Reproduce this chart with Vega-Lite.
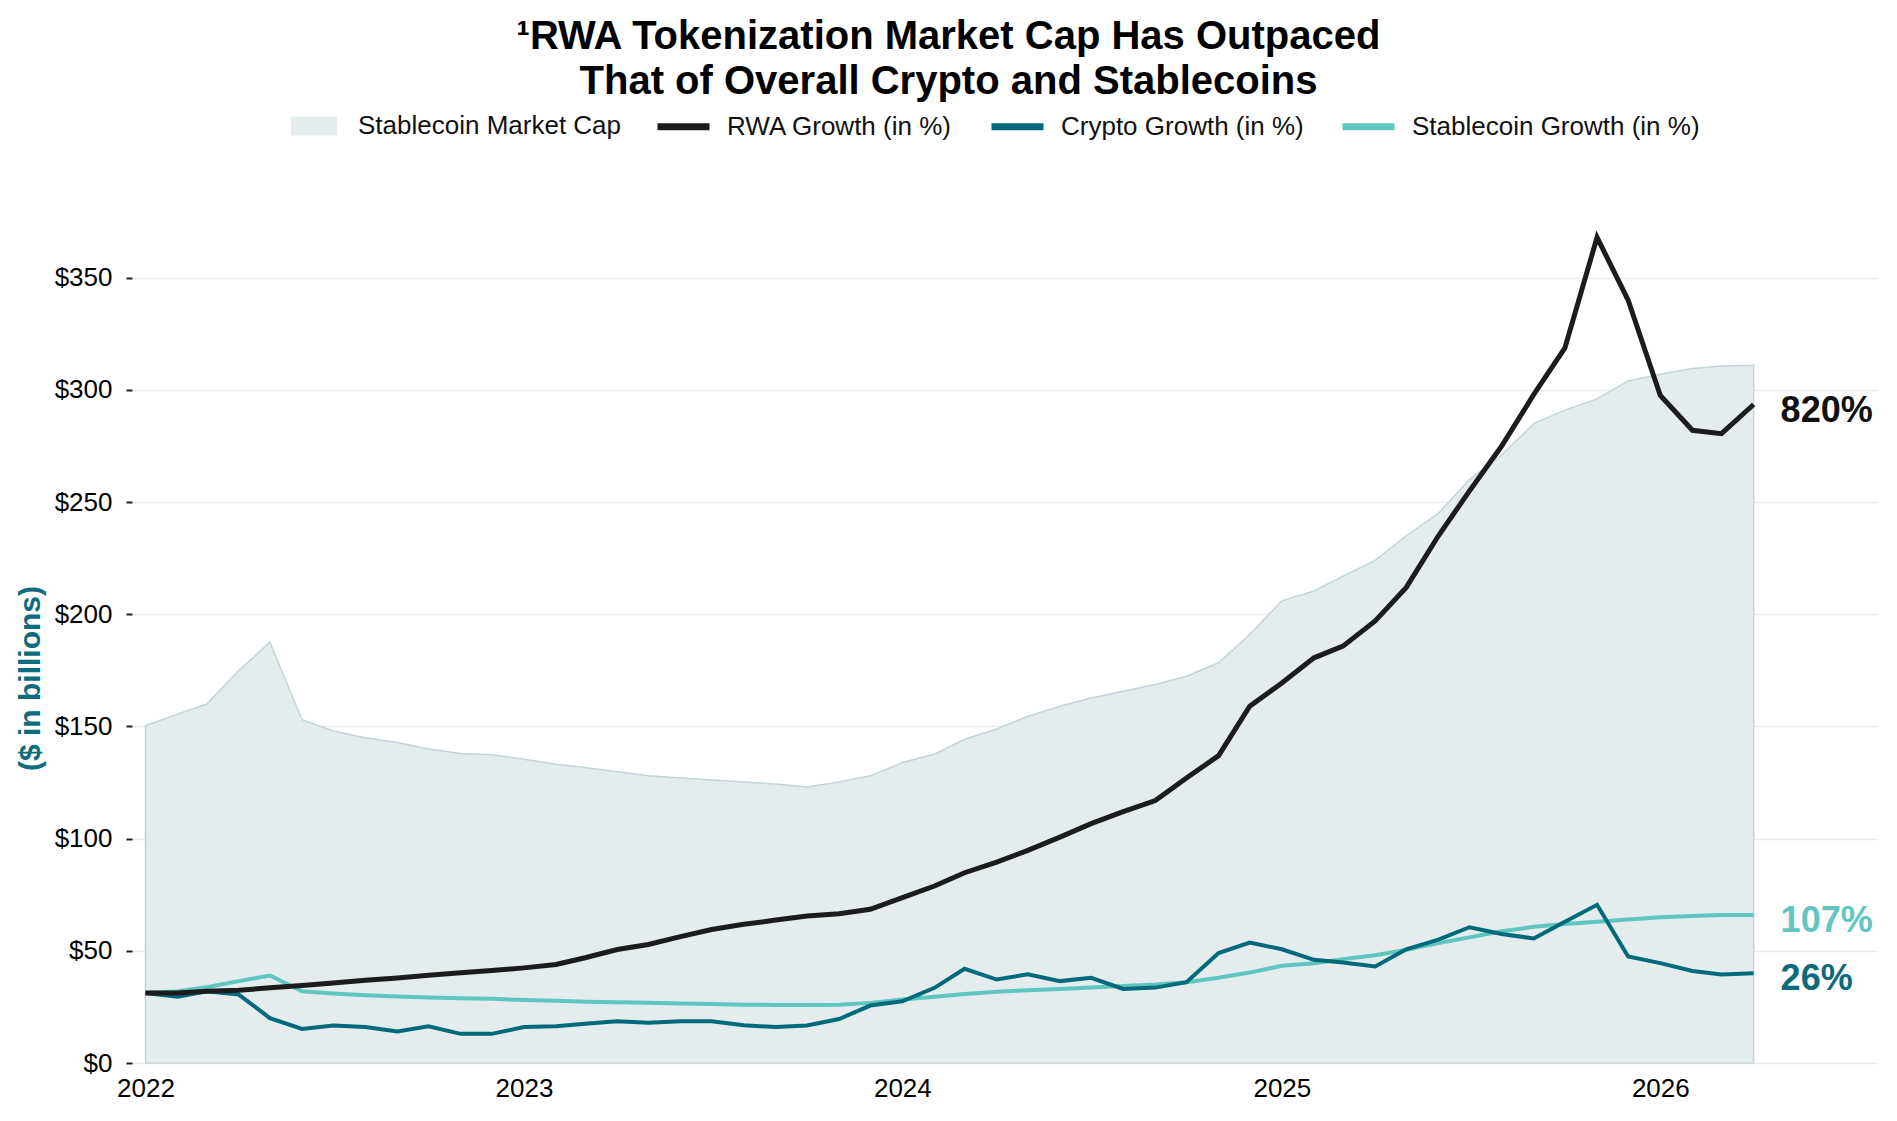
{
  "$schema": "https://vega.github.io/schema/vega-lite/v6.json",
  "description": "RWA tokenization market cap vs crypto and stablecoins",
  "autosize": {"type": "none"},
  "padding": {"left": 132, "top": 188, "right": 20, "bottom": 58},
  "width": 1745,
  "height": 875,
  "background": "#ffffff",
  "title": {
    "text": ["¹RWA Tokenization Market Cap Has Outpaced", "That of Overall Crypto and Stablecoins"],
    "anchor": "middle",
    "dx": -56,
    "dy": 15,
    "offset": 10,
    "lineHeight": 45,
    "font": "Liberation Sans",
    "fontSize": 40,
    "fontWeight": "bold",
    "color": "#000000"
  },
  "data": {
    "values": [
      {"date": "2022-01-01", "cap": 150.3, "rwa": 31.2, "crypto": 31.2, "stable": 31.2},
      {"date": "2022-02-01", "cap": 155.5, "rwa": 31.2, "crypto": 29.5, "stable": 32.0},
      {"date": "2022-03-01", "cap": 160.0, "rwa": 32.0, "crypto": 32.0, "stable": 33.8},
      {"date": "2022-04-01", "cap": 174.9, "rwa": 32.4, "crypto": 30.5, "stable": 36.5},
      {"date": "2022-05-01", "cap": 187.5, "rwa": 33.5, "crypto": 20.0, "stable": 39.0},
      {"date": "2022-06-01", "cap": 153.0, "rwa": 34.5, "crypto": 15.2, "stable": 32.0},
      {"date": "2022-07-01", "cap": 148.0, "rwa": 35.7, "crypto": 16.7, "stable": 31.0},
      {"date": "2022-08-01", "cap": 145.0, "rwa": 36.9, "crypto": 16.0, "stable": 30.2},
      {"date": "2022-09-01", "cap": 142.9, "rwa": 37.9, "crypto": 14.1, "stable": 29.6},
      {"date": "2022-10-01", "cap": 140.0, "rwa": 39.1, "crypto": 16.4, "stable": 29.2},
      {"date": "2022-11-01", "cap": 138.0, "rwa": 40.2, "crypto": 13.0, "stable": 28.9},
      {"date": "2022-12-01", "cap": 137.4, "rwa": 41.2, "crypto": 13.0, "stable": 28.6},
      {"date": "2023-01-01", "cap": 135.4, "rwa": 42.4, "crypto": 16.0, "stable": 28.1},
      {"date": "2023-02-01", "cap": 133.2, "rwa": 43.9, "crypto": 16.4, "stable": 27.7},
      {"date": "2023-03-01", "cap": 131.7, "rwa": 46.9, "crypto": 17.5, "stable": 27.3},
      {"date": "2023-04-01", "cap": 129.8, "rwa": 50.6, "crypto": 18.6, "stable": 27.1},
      {"date": "2023-05-01", "cap": 128.0, "rwa": 52.8, "crypto": 17.9, "stable": 26.8},
      {"date": "2023-06-01", "cap": 127.0, "rwa": 56.3, "crypto": 18.6, "stable": 26.5},
      {"date": "2023-07-01", "cap": 126.1, "rwa": 59.5, "crypto": 18.6, "stable": 26.3},
      {"date": "2023-08-01", "cap": 125.3, "rwa": 61.8, "crypto": 16.8, "stable": 26.0},
      {"date": "2023-09-01", "cap": 124.3, "rwa": 63.7, "crypto": 16.0, "stable": 25.9},
      {"date": "2023-10-01", "cap": 123.0, "rwa": 65.5, "crypto": 16.7, "stable": 25.9},
      {"date": "2023-11-01", "cap": 125.3, "rwa": 66.5, "crypto": 19.6, "stable": 26.0},
      {"date": "2023-12-01", "cap": 128.0, "rwa": 68.5, "crypto": 25.6, "stable": 26.8},
      {"date": "2024-01-01", "cap": 133.9, "rwa": 73.7, "crypto": 27.5, "stable": 28.3},
      {"date": "2024-02-01", "cap": 137.6, "rwa": 78.9, "crypto": 33.5, "stable": 29.5},
      {"date": "2024-03-01", "cap": 144.3, "rwa": 84.8, "crypto": 42.0, "stable": 30.8},
      {"date": "2024-04-01", "cap": 148.9, "rwa": 89.5, "crypto": 37.2, "stable": 31.8},
      {"date": "2024-05-01", "cap": 154.5, "rwa": 94.8, "crypto": 39.5, "stable": 32.4},
      {"date": "2024-06-01", "cap": 159.0, "rwa": 100.7, "crypto": 36.5, "stable": 33.0},
      {"date": "2024-07-01", "cap": 162.7, "rwa": 106.7, "crypto": 38.0, "stable": 33.6},
      {"date": "2024-08-01", "cap": 165.7, "rwa": 112.0, "crypto": 33.0, "stable": 34.3},
      {"date": "2024-09-01", "cap": 168.7, "rwa": 117.0, "crypto": 33.6, "stable": 35.0},
      {"date": "2024-10-01", "cap": 172.4, "rwa": 127.0, "crypto": 36.0, "stable": 36.0},
      {"date": "2024-11-01", "cap": 178.4, "rwa": 137.0, "crypto": 49.0, "stable": 38.0},
      {"date": "2024-12-01", "cap": 191.0, "rwa": 159.0, "crypto": 53.7, "stable": 40.3},
      {"date": "2025-01-01", "cap": 206.0, "rwa": 169.4, "crypto": 50.7, "stable": 43.3},
      {"date": "2025-02-01", "cap": 210.4, "rwa": 180.6, "crypto": 46.0, "stable": 44.5},
      {"date": "2025-03-01", "cap": 217.0, "rwa": 185.8, "crypto": 44.8, "stable": 46.3},
      {"date": "2025-04-01", "cap": 224.0, "rwa": 197.0, "crypto": 43.0, "stable": 48.0},
      {"date": "2025-05-01", "cap": 235.0, "rwa": 212.0, "crypto": 50.7, "stable": 50.5},
      {"date": "2025-06-01", "cap": 245.0, "rwa": 235.0, "crypto": 55.0, "stable": 53.5},
      {"date": "2025-07-01", "cap": 260.0, "rwa": 255.0, "crypto": 60.5, "stable": 56.0},
      {"date": "2025-08-01", "cap": 271.0, "rwa": 275.0, "crypto": 57.5, "stable": 58.7},
      {"date": "2025-09-01", "cap": 285.0, "rwa": 298.0, "crypto": 55.5, "stable": 60.7},
      {"date": "2025-10-01", "cap": 291.0, "rwa": 318.7, "crypto": 63.0, "stable": 62.0},
      {"date": "2025-11-01", "cap": 296.0, "rwa": 368.0, "crypto": 70.5, "stable": 63.0},
      {"date": "2025-12-01", "cap": 304.0, "rwa": 340.0, "crypto": 47.5, "stable": 64.0},
      {"date": "2026-01-01", "cap": 307.0, "rwa": 297.5, "crypto": 44.5, "stable": 65.0},
      {"date": "2026-02-01", "cap": 309.5, "rwa": 282.0, "crypto": 41.0, "stable": 65.5},
      {"date": "2026-03-01", "cap": 310.7, "rwa": 280.5, "crypto": 39.5, "stable": 66.0},
      {"date": "2026-04-01", "cap": 311.0, "rwa": 293.5, "crypto": 40.0, "stable": 66.0}
    ]
  },
  "encoding": {
    "x": {
      "field": "date",
      "type": "temporal",
      "scale": {"type": "utc", "domain": ["2021-12-19", "2026-07-29"]},
      "axis": {
        "title": null,
        "format": "%Y",
        "tickCount": {"interval": "year", "step": 1},
        "ticks": false,
        "domain": false,
        "grid": false,
        "labelPadding": 12,
        "labelFont": "Liberation Sans",
        "labelFontSize": 26,
        "labelColor": "#000000"
      }
    }
  },
  "layer": [
    {
      "mark": {"type": "area", "stroke": "#c2d5d9", "strokeWidth": 1.5, "fillOpacity": 1},
      "encoding": {
        "y": {
          "field": "cap",
          "type": "quantitative",
          "scale": {"domain": [0, 390], "nice": false},
          "axis": {
            "title": "($ in billions)",
            "titleFont": "Liberation Sans",
            "titleFontSize": 30,
            "titleFontWeight": "bold",
            "titleColor": "#0e6c7c",
            "titleX": -102,
            "titleY": 490,
            "titleBaseline": "middle",
            "titleAngle": -90,
            "values": [0, 50, 100, 150, 200, 250, 300, 350],
            "format": "$,.0f",
            "domain": false,
            "tickSize": 6,
            "tickWidth": 2,
            "tickColor": "#222222",
            "labelPadding": 14,
            "labelFont": "Liberation Sans",
            "labelFontSize": 26,
            "labelColor": "#000000",
            "gridColor": "#ebebeb",
            "gridWidth": 1.5
          }
        },
        "fill": {
          "datum": "Stablecoin Market Cap",
          "scale": {"range": ["#e4ecee"]},
          "legend": {
            "title": null,
            "orient": "none",
            "legendX": 159,
            "legendY": -85,
            "padding": 0,
            "symbolType": "M-1,-0.41H1V0.41H-1Z",
            "symbolSize": 2116,
            "symbolStrokeWidth": 0,
            "symbolOpacity": 1,
            "labelOffset": 21,
            "labelLimit": 0,
            "labelFont": "Liberation Sans",
            "labelFontSize": 26,
            "labelColor": "#111111"
          }
        }
      }
    },
    {
      "mark": {"type": "line", "strokeWidth": 4},
      "encoding": {
        "y": {"field": "stable", "type": "quantitative"},
        "stroke": {
          "datum": "Stablecoin Growth (in %)",
          "scale": {
            "domain": ["RWA Growth (in %)", "Crypto Growth (in %)", "Stablecoin Growth (in %)"],
            "range": ["#1c1c1c", "#006a7c", "#5ec6bf"]
          },
          "legend": {
            "title": null,
            "orient": "none",
            "direction": "horizontal",
            "columns": 3,
            "legendX": 522,
            "legendY": -91,
            "padding": 0,
            "symbolType": "stroke",
            "symbolSize": 2704,
            "symbolStrokeWidth": 7,
            "labelOffset": 14,
            "labelLimit": 0,
            "columnPadding": 24,
            "labelFont": "Liberation Sans",
            "labelFontSize": 26,
            "labelColor": "#111111"
          }
        }
      }
    },
    {
      "mark": {"type": "line", "strokeWidth": 4},
      "encoding": {
        "y": {"field": "crypto", "type": "quantitative"},
        "stroke": {"datum": "Crypto Growth (in %)"}
      }
    },
    {
      "mark": {"type": "line", "strokeWidth": 5},
      "encoding": {
        "y": {"field": "rwa", "type": "quantitative"},
        "stroke": {"datum": "RWA Growth (in %)"}
      }
    },
    {
      "data": {
        "values": [
          {"date": "2026-04-01", "value": 293.5, "label": "820%", "series": "rwa"},
          {"date": "2026-04-01", "value": 66.0, "label": "107%", "series": "stable"},
          {"date": "2026-04-01", "value": 40.0, "label": "26%", "series": "crypto"}
        ]
      },
      "mark": {
        "type": "text",
        "align": "left",
        "baseline": "middle",
        "dx": 27,
        "dy": 6,
        "font": "Liberation Sans",
        "fontSize": 36,
        "fontWeight": "bold"
      },
      "encoding": {
        "y": {"field": "value", "type": "quantitative"},
        "text": {"field": "label"},
        "color": {
          "field": "series",
          "type": "nominal",
          "scale": {"domain": ["rwa", "stable", "crypto"], "range": ["#111111", "#62c6c0", "#0b6a7c"]},
          "legend": null
        }
      }
    }
  ],
  "config": {
    "view": {"stroke": null}
  }
}
